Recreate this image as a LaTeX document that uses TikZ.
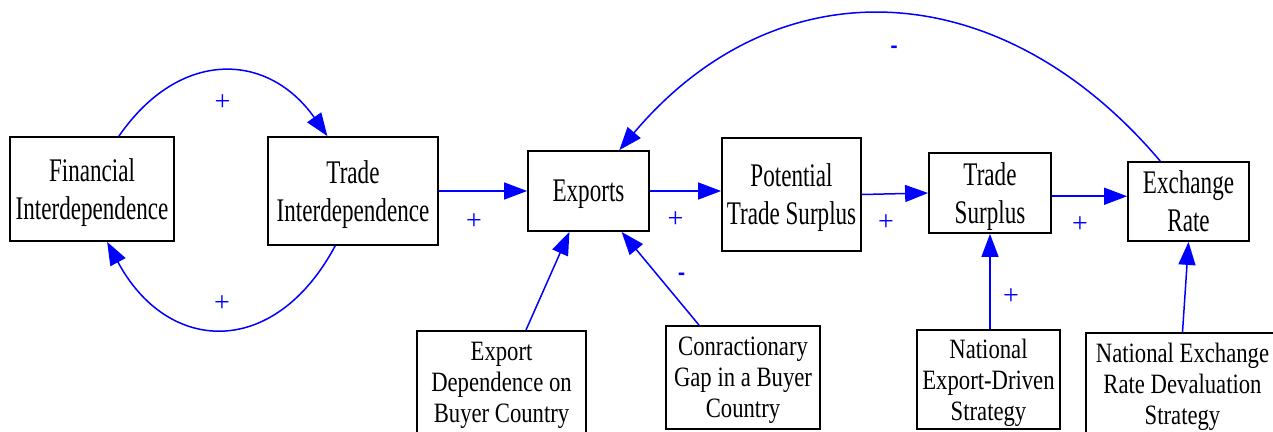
\documentclass[tikz,border=0pt]{standalone}
\usepackage{fontspec}
\setmainfont{Liberation Serif}
\newfontfamily\topfont{Liberation Serif}[FakeStretch=0.7]
\newfontfamily\botfont{Liberation Serif}[FakeStretch=0.81]
\newfontfamily\minusfont{DejaVu Sans}
\usetikzlibrary{arrows.meta}
\begin{document}
\begin{tikzpicture}[x=1pt,y=-1pt,
  box/.style={draw=black, line width=1.8pt, rectangle, align=center, inner sep=0pt, text depth=0pt},
  topbox/.style={box, font=\topfont\fontsize{33}{38}\selectfont},
  botbox/.style={box, font=\botfont\fontsize{28}{31}\selectfont},
  link/.style={draw=blue, line width=1.5pt, -{Triangle[length=23pt,width=17pt]}},
  plussign/.style={text=blue, font=\fontsize{28}{28}\selectfont, inner sep=0pt},
  minussign/.style={text=blue, font=\minusfont\bfseries\fontsize{18}{18}\selectfont, inner sep=0pt}
]
\useasboundingbox (0,0) rectangle (1273,431);
\clip (0,0) rectangle (1273,431);

% top row
\node[topbox, minimum width=164pt, minimum height=104pt] (fin) at (92,189) {Financial\\Interdependence};
\node[topbox, minimum width=170pt, minimum height=108pt] (trade) at (353,191) {Trade\\Interdependence};
\node[topbox, minimum width=121pt, minimum height=80pt] (exp) at (588.5,191) {Exports};
\node[topbox, minimum width=139pt, minimum height=113pt] (pot) at (791.5,194.5) {Potential\\Trade Surplus};
\node[topbox, minimum width=122pt, minimum height=80pt] (ts) at (990,193) {Trade\\Surplus};
\node[topbox, minimum width=121pt, minimum height=79pt] (er) at (1188.5,201.5) {Exchange\\Rate};

% bottom row
\node[botbox, minimum width=169pt, minimum height=103pt] (dep) at (501.5,382.5) {Export\\Dependence on\\Buyer Country};
\node[botbox, minimum width=154pt, minimum height=103pt] (gap) at (743,377.5) {Conractionary\\Gap in a Buyer\\Country};
\node[botbox, minimum width=143pt, minimum height=99pt] (ned) at (988.5,379.5) {National\\Export-Driven\\Strategy};
\node[botbox, minimum width=193pt, minimum height=101pt] (ner) at (1182.5,383.5) {National Exchange\\Rate Devaluation\\Strategy};

% connectors
\draw[link] (fin.63) .. controls +(60,-87) and +(-60,-85) .. (trade.115);
\draw[link] (trade.252) .. controls +(-60.5,113) and +(60.5,113) .. (fin.286);
\draw[link] (er.125) .. controls +(-159,-188) and +(159,-188) .. (exp.53);
\draw[link] (trade.east) -- (exp.west);
\draw[link] (exp.east) -- (exp.east -| pot.west);
\draw[link] (pot.east) -- (ts.west);
\draw[link] (ts.-3) -- (ts.-3 -| er.west);
\draw[link] (dep.65.5) -- (exp.245);
\draw[link] (gap.130) -- (exp.-51);
\draw[link] (ts.south |- ned.north) -- (ts.south);
\draw[link] (ner.north) -- (er.south);

% polarity labels
\node[plussign] (p1) at (222.5,103) {+};
\node[plussign] (p2) at (222,304) {+};
\node[plussign] (p3) at (474,222) {+};
\node[plussign] (p4) at (675.5,220) {+};
\node[plussign] (p5) at (886,222.5) {+};
\node[plussign] (p6) at (1080,225) {+};
\node[plussign] (p7) at (1011,297) {+};
\node[minussign] (m1) at (894,49) {-};
\node[minussign] (m2) at (681.5,276) {-};
\end{tikzpicture}
\end{document}
